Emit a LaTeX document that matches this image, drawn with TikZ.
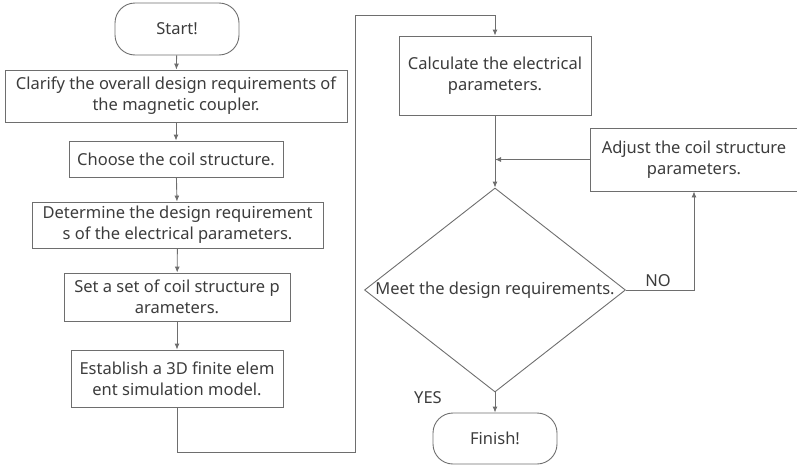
\documentclass[tikz,border=0pt]{standalone}
\usepackage{fontspec}
\setmainfont{Noto Sans}
\usetikzlibrary{shapes.geometric,arrows.meta}
\definecolor{linegray}{RGB}{110,110,110}
\definecolor{textgray}{RGB}{60,60,60}
\tikzset{
  stepbox/.style={draw=linegray, line width=0.9pt, rectangle, inner sep=0pt, align=center, text=textgray, font=\fontsize{16.5}{21}\selectfont},
  endbox/.style={stepbox, rounded corners=20pt},
  flow/.style={draw=linegray, line width=0.9pt, -{Latex[length=6pt,width=5pt]}},
  tag/.style={text=textgray, font=\fontsize{16.5}{21}\selectfont}
}
\begin{document}
\begin{tikzpicture}[x=1pt, y=-1pt]
\useasboundingbox (0,0) rectangle (797,466);
\clip (0,0) rectangle (797,466);

\node [endbox, minimum width=124pt, minimum height=52pt] (start) at (177,29) {Start!};
\node [stepbox, minimum width=342pt, minimum height=52pt] (clarify) at (176,96) {Clarify the overall design requirements of\\the magnetic coupler.};
\node [stepbox, minimum width=214pt, minimum height=36pt] (choose) at (176,159) {Choose the coil structure.};
\node [stepbox, minimum width=291pt, minimum height=46pt] (determine) at (177.5,225) {Determine the design requirement\\s of the electrical parameters.};
\node [stepbox, minimum width=226pt, minimum height=48pt] (setpar) at (177,297) {Set a set of coil structure p\\arameters.};
\node [stepbox, minimum width=212pt, minimum height=57pt] (establish) at (177,378.5) {Establish a 3D finite elem\\ent simulation model.};

\node [stepbox, minimum width=192pt, minimum height=79pt] (calc) at (495,75.5) {Calculate the electrical\\parameters.};
\node [stepbox, minimum width=208pt, minimum height=63pt] (adjust) at (694,159.5) {Adjust the coil structure\\parameters.};
\node [diamond, draw=linegray, line width=0.9pt, inner sep=0pt, minimum width=261pt, minimum height=204pt] (dec) at (495,290) {};
\node [tag] (dectext) at (dec.center) {Meet the design requirements.};
\node [endbox, minimum width=124pt, minimum height=51pt] (finish) at (495,438.5) {Finish!};

\node [tag] (no) at (658,281) {NO};
\node [tag] (yes) at (428,398) {YES};

\coordinate (loopA) at (355,452);
\coordinate (loopB) at (355,15);

\draw [flow] (start) -- (clarify);
\draw [flow] (clarify) -- (choose);
\draw [flow] (choose) -- (determine);
\draw [flow] (determine) -- (setpar);
\draw [flow] (setpar) -- (establish);
\draw [flow] (establish.south) |- (loopA) -- (loopB) -| (calc.north);
\draw [flow] (calc.south) -- (dec.north);
\draw [flow] (adjust.west) -- (calc.south |- adjust.west);
\draw [flow] (dec.east) -| (adjust.south);
\draw [flow] (dec.south) -- (finish.north);

\end{tikzpicture}
\end{document}
